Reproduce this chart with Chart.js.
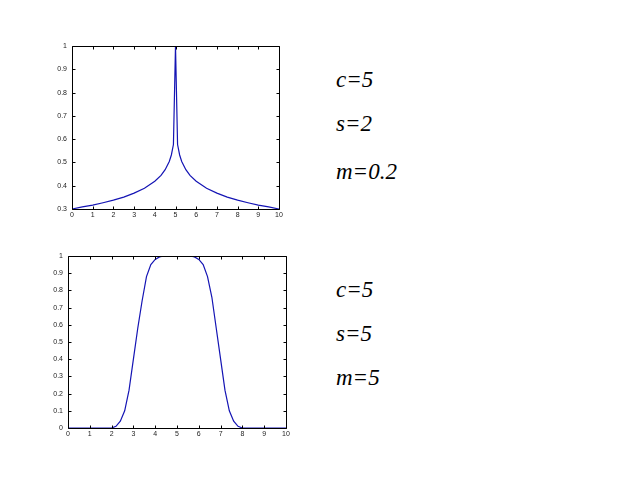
<!DOCTYPE html>
<html>
<head>
<meta charset="utf-8">
<script src="https://cdn.jsdelivr.net/npm/chart.js@4/dist/chart.umd.min.js"></script>
<style>
body { margin: 0; background: #fff; }
#page { position: relative; width: 638px; height: 479px; overflow: hidden; }
canvas { position: absolute; }
.lbl {
    position: absolute; left: 336px; line-height: 23px;
    font-family: "Liberation Serif", "Times New Roman", serif;
    font-style: italic; font-size: 23px; color: #000; white-space: nowrap;
}
</style>
</head>
<body>
<div id="page">
    <canvas id="top" width="250" height="190" style="left:40px;top:36px"></canvas>
    <canvas id="bottom" width="260" height="200" style="left:36px;top:246px"></canvas>
    <div class="lbl" style="top:68px">c=5</div>
    <div class="lbl" style="top:112px">s=2</div>
    <div class="lbl" style="top:160px">m=0.2</div>
    <div class="lbl" style="top:278px">c=5</div>
    <div class="lbl" style="top:322px">s=5</div>
    <div class="lbl" style="top:366px">m=5</div>
</div>
<script>
// top plot: c=5, s=2, m=0.2
var topX = [0, 0.5, 1, 1.5, 2, 2.5, 3, 3.5, 4, 4.3, 4.5, 4.7, 4.8, 4.9, 5,
            5.1, 5.2, 5.3, 5.5, 5.7, 6, 6.5, 7, 7.5, 8, 8.5, 9, 9.5, 10];
var topY = [0.300, 0.309, 0.317, 0.327, 0.338, 0.351, 0.368, 0.389, 0.419, 0.444, 0.469, 0.504, 0.532, 0.577, 1,
            0.577, 0.532, 0.504, 0.469, 0.444, 0.419, 0.389, 0.368, 0.351, 0.338, 0.327, 0.317, 0.309, 0.300];

// bottom plot: c=5, s=5, m=5
var botX = [0, 1, 2, 2.2, 2.4, 2.6, 2.8, 3.0, 3.2, 3.4, 3.6, 3.8, 4.0, 4.2, 4.4, 4.6, 5,
            5.4, 5.6, 5.8, 6.0, 6.2, 6.4, 6.6, 6.8, 7.0, 7.2, 7.4, 7.6, 7.8, 8, 9, 10];
var botY = [0, 0, 0, 0.01, 0.04, 0.1, 0.22, 0.4, 0.58, 0.74, 0.88, 0.95, 0.98, 0.995, 1, 1, 1,
            1, 1, 0.995, 0.98, 0.95, 0.88, 0.76, 0.58, 0.4, 0.22, 0.1, 0.04, 0.01, 0, 0, 0];

var xTicks = { min: 0, max: 10, step: 1 };
var topYTicks = { min: 0.3, max: 1, step: 0.1 };
var botYTicks = { min: 0, max: 1, step: 0.1 };

// matlab style box with inward ticks on all sides
var boxTicks = {
    id: 'boxTicks',
    afterDraw: function (chart) {
        var ctx = chart.ctx;
        var a = chart.chartArea;
        var sx = chart.scales.x, sy = chart.scales.y;
        var L = Math.round(a.left) + 0.5, R = Math.round(a.right) + 0.5;
        var T = Math.round(a.top) + 0.5, B = Math.round(a.bottom) + 0.5;
        ctx.save();
        ctx.strokeStyle = '#000';
        ctx.lineWidth = 1;
        ctx.beginPath();
        ctx.rect(L, T, R - L, B - T);
        sx.ticks.forEach(function (t) {
            var px = Math.round(sx.getPixelForValue(t.value)) + 0.5;
            ctx.moveTo(px, B); ctx.lineTo(px, B - 3);
            ctx.moveTo(px, T); ctx.lineTo(px, T + 3);
        });
        sy.ticks.forEach(function (t) {
            var py = Math.round(sy.getPixelForValue(t.value)) + 0.5;
            ctx.moveTo(L, py); ctx.lineTo(L + 3, py);
            ctx.moveTo(R, py); ctx.lineTo(R - 3, py);
        });
        ctx.stroke();
        ctx.restore();
    }
};

function makePlot(id, xs, ys, yt, pad, xh) {
    var pts = xs.map(function (x, i) { return { x: x, y: ys[i] }; });
    return new Chart(document.getElementById(id), {
        type: 'line',
        data: {
            datasets: [{
                data: pts,
                borderColor: '#1414b4',
                borderWidth: 1.2,
                pointRadius: 0,
                tension: 0,
                fill: false
            }]
        },
        options: {
            responsive: false,
            animation: false,
            layout: { padding: pad },
            plugins: { legend: { display: false }, tooltip: { enabled: false } },
            scales: {
                x: {
                    type: 'linear',
                    min: xTicks.min, max: xTicks.max,
                    grid: { display: false, drawTicks: false },
                    border: { display: false },
                    ticks: {
                        stepSize: xTicks.step, padding: 2, color: '#222', maxRotation: 0,
                        font: { family: 'Liberation Sans, Arial, sans-serif', size: 7 }
                    },
                    afterFit: function (s) { s.height = xh; }
                },
                y: {
                    min: yt.min, max: yt.max,
                    grid: { display: false, drawTicks: false },
                    border: { display: false },
                    ticks: {
                        stepSize: yt.step, padding: 5, color: '#222',
                        font: { family: 'Liberation Sans, Arial, sans-serif', size: 7 },
                        callback: function (v) { return String(Math.round(v * 10) / 10); }
                    },
                    afterFit: function (s) { s.width = 32; }
                }
            }
        },
        plugins: [boxTicks]
    });
}

makePlot('top', topX, topY, topYTicks, { top: 10, right: 11, left: 0, bottom: 0 }, 17);
makePlot('bottom', botX, botY, botYTicks, { top: 10, right: 10, left: 0, bottom: 0 }, 18);
</script>
</body>
</html>
